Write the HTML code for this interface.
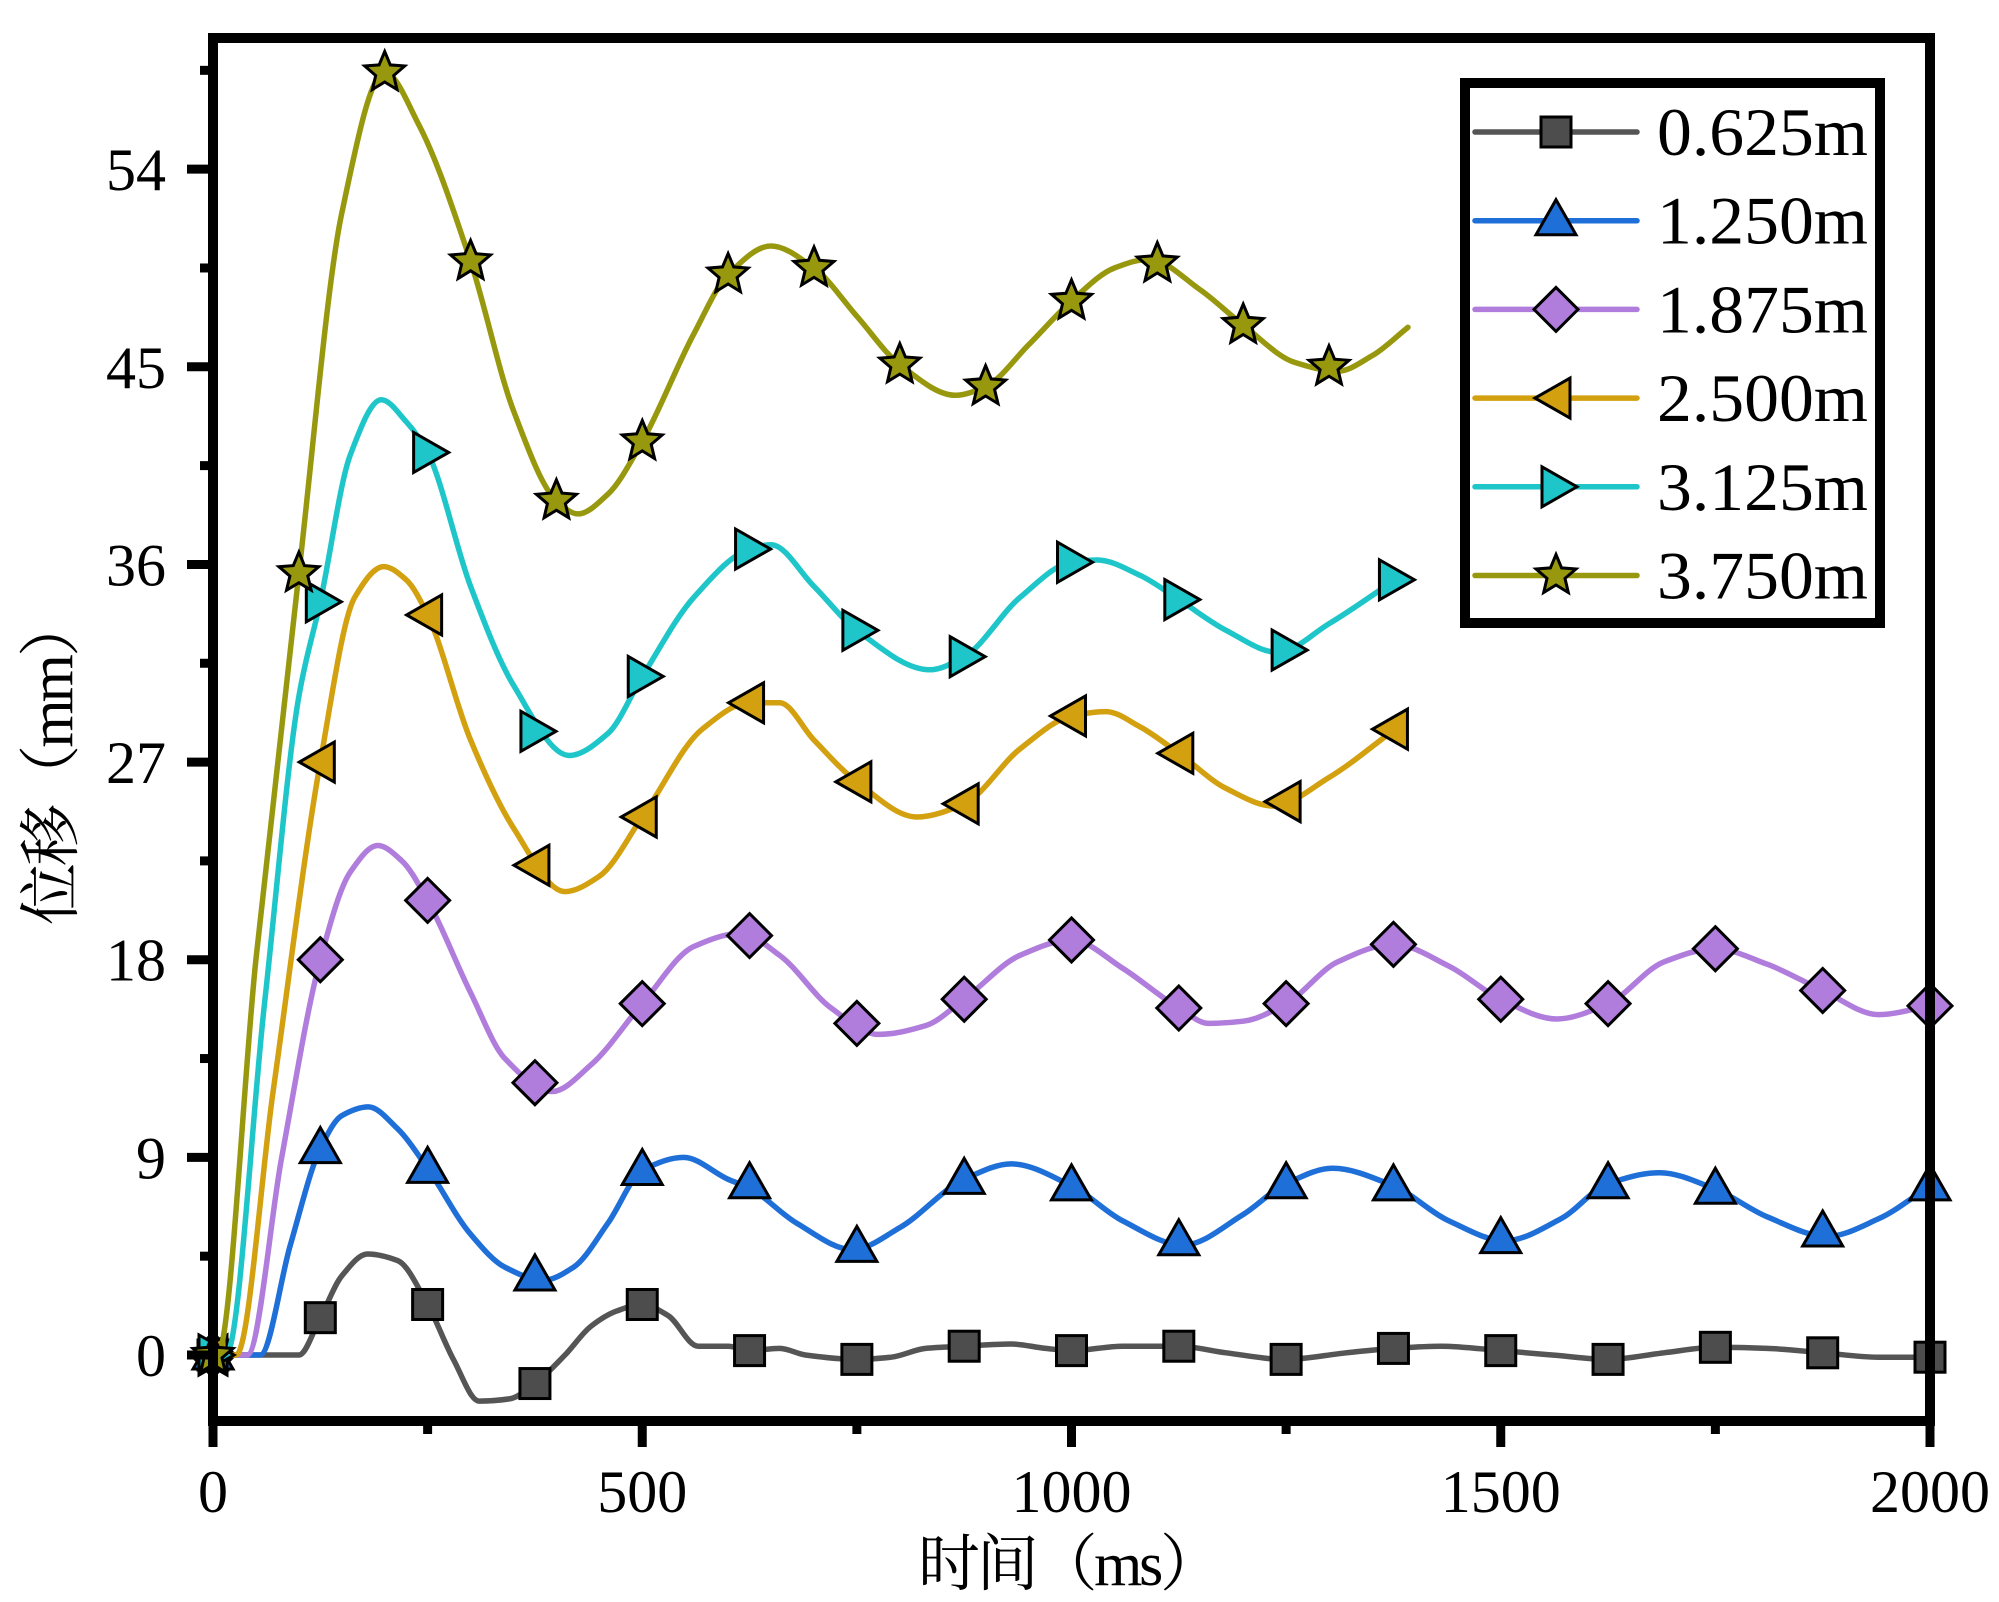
<!DOCTYPE html>
<html><head><meta charset="utf-8"><style>
html,body{margin:0;padding:0;background:#fff;}
svg{display:block;}
</style></head><body>
<svg id="chart" width="1999" height="1602" viewBox="0 0 1999 1602" xmlns="http://www.w3.org/2000/svg">
<g id="plot"></g>
<g id="axes"></g>
<g id="legend"></g>
</svg>
<script>
const seriesNames = ["0.625m","1.250m","1.875m","2.500m","3.125m","3.750m"];
const xTicks = [0,500,1000,1500,2000];
const yTicks = [0,9,18,27,36,45,54];
const curve0625 = [[0,0],[100,0],[125,1.7],[150,3.6],[180,4.6],[215,4.3],[250,2.3],[280,-0.2],[310,-2.1],[345,-2.0],[375,-1.3],[410,0],[440,1.3],[470,2.0],[500,2.3],[530,1.8],[565,0.4],[600,0.4],[625,0.2],[660,0.3],[690,0],[750,-0.2],[790,-0.1],[830,0.3],[875,0.4],[930,0.5],[970,0.3],[1000,0.2],[1060,0.4],[1125,0.4],[1180,0.1],[1250,-0.2],[1320,0.1],[1375,0.3],[1430,0.4],[1500,0.2],[1560,0],[1625,-0.2],[1690,0.1],[1750,0.35],[1810,0.3],[1875,0.1],[1940,-0.1],[2000,-0.1]];
const curve1250 = [[0,0],[55,0],[90,5],[125,9.4],[150,10.9],[181,11.3],[215,10.3],[250,8.5],[300,5.5],[340,4.0],[385,3.4],[420,4.0],[460,6.0],[500,8.4],[548,9.0],[600,8.0],[625,7.6],[680,6.0],[745,4.8],[800,5.8],[875,8.0],[930,8.7],[1000,7.7],[1060,6.1],[1130,5.0],[1200,6.4],[1250,7.8],[1304,8.5],[1375,7.7],[1440,6.1],[1505,5.2],[1570,6.2],[1625,7.8],[1685,8.3],[1750,7.55],[1810,6.3],[1880,5.4],[1940,6.2],[2000,7.7]];
const curve1875 = [[0,0],[40,0],[80,9],[125,18],[160,22],[192,23.2],[220,22.5],[250,20.7],[300,16.5],[340,13.5],[395,12.0],[440,13.2],[500,16.0],[560,18.6],[615,19.2],[660,18.2],[720,15.8],[775,14.6],[830,15.0],[875,16.2],[940,18.2],[1000,18.9],[1060,17.6],[1125,15.8],[1160,15.1],[1200,15.2],[1250,16.0],[1310,17.9],[1375,18.7],[1440,17.7],[1500,16.2],[1565,15.3],[1625,16.0],[1690,17.9],[1750,18.5],[1810,17.8],[1875,16.6],[1940,15.5],[2000,15.9]];
const curve2500 = [[0,0],[27,0],[70,12],[125,27],[165,34.5],[199,35.9],[225,35.3],[250,33.7],[300,28],[350,24],[410,21.1],[450,21.8],[500,24.5],[570,28.5],[625,29.7],[660,29.7],[700,28],[750,26.1],[820,24.5],[875,25.1],[940,27.6],[1000,29.1],[1040,29.3],[1080,28.6],[1125,27.4],[1180,25.8],[1235,25.0],[1300,26.3],[1377,28.5]];
const curve3125 = [[0,0],[15,0],[60,16],[100,30],[125,34.3],[160,41],[196,43.5],[225,42.5],[250,41.1],[300,35],[350,30.5],[415,27.3],[460,28.3],[500,30.9],[560,34.5],[625,36.7],[650,36.9],[700,35],[750,33],[835,31.2],[875,31.8],[940,34.5],[1000,36.1],[1030,36.2],[1080,35.5],[1125,34.4],[1180,33],[1240,32.0],[1300,33.3],[1377,35.3]];
const curve3750 = [[0,0],[5,0],[50,18],[100,35.6],[150,52],[200,58.4],[240,56],[300,49.8],[350,43],[400,38.9],[425,38.3],[460,39.2],[500,41.6],[560,46.5],[600,49.2],[650,50.5],[700,49.5],[750,47.3],[800,45.1],[865,43.7],[900,44.1],[950,46],[1000,48.0],[1050,49.5],[1090,49.9],[1150,48.5],[1200,46.9],[1260,45.2],[1310,44.8],[1350,45.5],[1392,46.8]];
const markers0625 = [[0,0],[125,1.7],[250,2.3],[375,-1.3],[500,2.3],[625,0.2],[750,-0.2],[875,0.4],[1000,0.2],[1125,0.4],[1250,-0.2],[1375,0.3],[1500,0.2],[1625,-0.2],[1750,0.35],[1875,0.1],[2000,-0.1]];
const markers1250 = [[0,0],[125,9.4],[250,8.5],[375,3.6],[500,8.4],[625,7.8],[750,4.9],[875,8.0],[1000,7.7],[1125,5.2],[1250,7.8],[1375,7.7],[1500,5.3],[1625,7.8],[1750,7.55],[1875,5.6],[2000,7.7]];
const markers1875 = [[0,0],[125,18.0],[250,20.7],[375,12.4],[500,16.0],[625,19.1],[750,15.1],[875,16.2],[1000,18.9],[1125,15.8],[1250,16.0],[1375,18.7],[1500,16.2],[1625,16.0],[1750,18.5],[1875,16.6],[2000,15.9]];
const markers2500 = [[0,0],[125,27.0],[250,33.7],[375,22.3],[500,24.5],[625,29.7],[750,26.1],[875,25.1],[1000,29.1],[1125,27.4],[1250,25.2],[1375,28.5]];
const markers3125 = [[0,0],[125,34.3],[250,41.1],[375,28.4],[500,30.9],[625,36.7],[750,33.0],[875,31.8],[1000,36.1],[1125,34.4],[1250,32.1],[1375,35.3]];
const markers3750 = [[0,0],[100,35.6],[200,58.4],[300,49.8],[400,38.9],[500,41.6],[600,49.2],[700,49.5],[800,45.1],[900,44.1],[1000,48.0],[1100,49.7],[1200,46.9],[1300,45.0]];

const X0=213, X1=1930, Y0=1355, PXU=21.96;
function sx(v){return X0+(X1-X0)*v/2000;}
function sy(v){return Y0-v*PXU;}
const NS="http://www.w3.org/2000/svg";
function mk(tag,attrs,parent){const e=document.createElementNS(NS,tag);for(const k in attrs)e.setAttribute(k,attrs[k]);parent.appendChild(e);return e;}
function pathFrom(pts){
  const p=pts.map(d=>[sx(d[0]),sy(d[1])]);
  const n=p.length;
  const dl=[],m=[];
  for(let i=0;i<n-1;i++)dl.push((p[i+1][1]-p[i][1])/(p[i+1][0]-p[i][0]));
  m[0]=dl[0];m[n-1]=dl[n-2];
  for(let i=1;i<n-1;i++){
    if(dl[i-1]*dl[i]<=0)m[i]=0;
    else{const h0=p[i][0]-p[i-1][0],h1=p[i+1][0]-p[i][0];const w1=2*h1+h0,w2=h1+2*h0;m[i]=(w1+w2)/(w1/dl[i-1]+w2/dl[i]);}
  }
  let s="M"+p[0][0].toFixed(1)+","+p[0][1].toFixed(1);
  for(let i=0;i<n-1;i++){
    const h=(p[i+1][0]-p[i][0])/3;
    s+=" C"+(p[i][0]+h).toFixed(1)+","+(p[i][1]+m[i]*h).toFixed(1)+" "+(p[i+1][0]-h).toFixed(1)+","+(p[i+1][1]-m[i+1]*h).toFixed(1)+" "+p[i+1][0].toFixed(1)+","+p[i+1][1].toFixed(1);
  }
  return s;
}
function starPts(cx,cy,R){const r=R*0.45;let a=[];for(let i=0;i<10;i++){const ang=-Math.PI/2+i*Math.PI/5;const rr=i%2?r:R;a.push((cx+rr*Math.cos(ang)).toFixed(1)+","+(cy+rr*Math.sin(ang)).toFixed(1));}return a.join(" ");}
function drawMarker(type,cx,cy,fill,parent){
  const st={fill:fill,stroke:"#000","stroke-width":3,"stroke-linejoin":"miter"};
  let e;
  if(type==="square"){e=mk("rect",Object.assign({x:cx-15,y:cy-15,width:30,height:30},st),parent);}
  else if(type==="up"){e=mk("polygon",Object.assign({points:`${cx},${cy-21} ${cx+20},${cy+14} ${cx-20},${cy+14}`},st),parent);}
  else if(type==="diamond"){e=mk("polygon",Object.assign({points:`${cx},${cy-22} ${cx+22},${cy} ${cx},${cy+22} ${cx-22},${cy}`},st),parent);}
  else if(type==="left"){e=mk("polygon",Object.assign({points:`${cx-21},${cy} ${cx+14},${cy-20} ${cx+14},${cy+20}`},st),parent);}
  else if(type==="right"){e=mk("polygon",Object.assign({points:`${cx+21},${cy} ${cx-14},${cy-20} ${cx-14},${cy+20}`},st),parent);}
  else {e=mk("polygon",Object.assign({points:starPts(cx,cy,21)},st),parent);}
  return e;
}
const plot=document.getElementById("plot");
const curves=[curve0625,curve1250,curve1875,curve2500,curve3125,curve3750];
const markerSets=[markers0625,markers1250,markers1875,markers2500,markers3125,markers3750];
const colors=["#555555","#1f6fd8","#b07ddc","#d3a00f","#1fc6c9","#98980e"];
const mtypes=["square","up","diamond","left","right","star"];
for(let i=0;i<6;i++){
  const g=mk("g",{},plot);
  
  
  const ln=mk("path",{d:pathFrom(curves[i]),fill:"none",stroke:colors[i],"stroke-width":5.5,"stroke-linejoin":"round","stroke-linecap":"round"},g);
  
  
  markerSets[i].forEach(d=>{
    const m=drawMarker(mtypes[i],sx(d[0]),sy(d[1]),colors[i]==="#555555"?"#4d4d4d":colors[i],g);
    
    
  });
}
const axes=document.getElementById("axes");
const YB=1421, YT=38;
const frame=mk("rect",{x:X0,y:YT,width:X1-X0,height:YB-YT,fill:"none",stroke:"#000","stroke-width":10},axes);


const FONT='"Liberation Serif","Noto Serif CJK SC",serif';
for(let v=0;v<=2000;v+=250){
  const major=v%500===0;
  const t=mk("line",{x1:sx(v),x2:sx(v),y1:YB,y2:YB+(major?26:13),stroke:"#000","stroke-width":9},axes);
  
  
}
xTicks.forEach(v=>{
  const t=mk("text",{x:sx(v),y:1512,"text-anchor":"middle","font-family":FONT,"font-size":60},axes);
  t.textContent=v;
  
  
});
for(let v=0;v<=58.5;v+=4.5){
  const major=v%9===0;
  const t=mk("line",{x1:X0,x2:X0-(major?26:13),y1:sy(v),y2:sy(v),stroke:"#000","stroke-width":9},axes);
  
  
}
yTicks.forEach(v=>{
  const t=mk("text",{x:166,y:sy(v)+21,"text-anchor":"end","font-family":FONT,"font-size":60},axes);
  t.textContent=v;
  
  
});
const xl=mk("text",{x:1070,y:1585,"text-anchor":"middle","font-family":FONT,"font-size":62,textLength:304},axes);
xl.textContent="时间（ms）";


const yl=mk("text",{x:0,y:0,"text-anchor":"middle","font-family":FONT,"font-size":62,transform:"translate(72,760) rotate(-90)",textLength:330},axes);
yl.textContent="位移（mm）";



const legend=document.getElementById("legend");
const lb=mk("rect",{x:1465,y:83,width:415,height:540,fill:"#fff",stroke:"#000","stroke-width":10},legend);


for(let i=0;i<6;i++){
  const cy=132+i*88.7;
  const g=mk("g",{},legend);
  
  
  mk("line",{x1:1475,x2:1637,y1:cy,y2:cy,stroke:colors[i],"stroke-width":5.5,"stroke-linecap":"round"},g);
  drawMarker(mtypes[i],1556,cy,colors[i]==="#555555"?"#4d4d4d":colors[i],g);
  const t=mk("text",{x:1657,y:cy+23,"font-family":FONT,"font-size":68,textLength:211,lengthAdjust:"spacingAndGlyphs"},g);
  t.textContent=seriesNames[i];
}
</script>
</body></html>
